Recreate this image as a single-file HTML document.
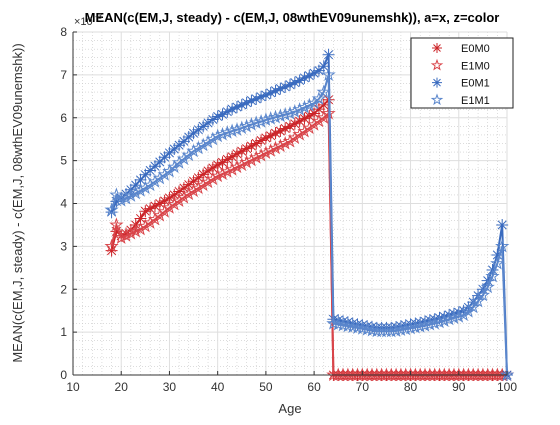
<!DOCTYPE html>
<html><head><meta charset="utf-8"><style>
body{margin:0;background:#fff;}
svg text{font-family:"Liberation Sans",sans-serif;}
</style></head><body>
<svg id="chart" width="560" height="420" xmlns="http://www.w3.org/2000/svg">
<rect x="0" y="0" width="560" height="420" fill="#fff"/>
<g id="grid"></g>
<g id="series"></g>
<g id="axes"></g>
<text x="292" y="22" text-anchor="middle" font-size="13" font-weight="bold" fill="#000">MEAN(c(EM,J, steady) - c(EM,J, 08wthEV09unemshk)), a=x, z=color</text>
<text x="74" y="25" font-size="11" fill="#333">×10</text>
<text x="95" y="19" font-size="8" fill="#333">-3</text>
<text x="290" y="413" text-anchor="middle" font-size="13" fill="#333">Age</text>
<text transform="translate(22,203) rotate(-90)" text-anchor="middle" font-size="13" fill="#333">MEAN(c(EM,J, steady) - c(EM,J, 08wthEV09unemshk))</text>
<g id="legend"></g>
</svg>
<script>
const xTicks=[10,20,30,40,50,60,70,80,90,100];
const yTicks=[0,1,2,3,4,5,6,7,8];
const seriesNames=["E0M0","E1M0","E0M1","E1M1"];
const workStartAge=18;
const retireStartAge=64;
const e0m0Work=[2.9,3.35,3.25,3.3,3.38,3.5,3.65,3.82,3.88,3.94,4.0,4.06,4.13,4.2,4.28,4.36,4.44,4.52,4.6,4.68,4.76,4.83,4.9,4.96,5.03,5.09,5.16,5.22,5.28,5.34,5.4,5.47,5.53,5.58,5.64,5.69,5.75,5.8,5.86,5.92,5.98,6.04,6.1,6.2,6.3,6.42];
const e1m0Work=[3.0,3.5,3.2,3.25,3.3,3.35,3.4,3.47,3.55,3.63,3.72,3.81,3.9,3.98,4.06,4.14,4.22,4.29,4.36,4.43,4.5,4.57,4.64,4.69,4.74,4.79,4.85,4.9,4.96,5.01,5.07,5.12,5.18,5.23,5.29,5.34,5.4,5.45,5.53,5.61,5.68,5.76,5.84,5.92,6.0,6.1];
const e0m1Work=[3.8,4.05,4.13,4.22,4.32,4.43,4.55,4.67,4.77,4.87,4.97,5.08,5.18,5.27,5.36,5.45,5.55,5.64,5.72,5.8,5.88,5.96,6.03,6.08,6.14,6.2,6.25,6.3,6.35,6.4,6.44,6.49,6.53,6.58,6.63,6.68,6.72,6.77,6.82,6.87,6.93,6.98,7.04,7.1,7.2,7.47];
const e1m1Work=[3.85,4.2,4.07,4.12,4.18,4.24,4.3,4.36,4.43,4.51,4.59,4.67,4.75,4.85,4.95,5.04,5.13,5.22,5.29,5.36,5.43,5.5,5.57,5.61,5.65,5.69,5.72,5.76,5.8,5.84,5.88,5.91,5.95,5.98,6.01,6.04,6.07,6.1,6.14,6.19,6.24,6.29,6.34,6.44,6.6,7.0];
const e0m0Retire=[0,0,0,0,0,0,0,0,0,0,0,0,0,0,0,0,0,0,0,0,0,0,0,0,0,0,0,0,0,0,0,0,0,0,0,0,0];
const e1m0Retire=[0,0,0,0,0,0,0,0,0,0,0,0,0,0,0,0,0,0,0,0,0,0,0,0,0,0,0,0,0,0,0,0,0,0,0,0,0];
const e0m1Retire=[1.3,1.28,1.25,1.23,1.2,1.18,1.16,1.14,1.12,1.1,1.1,1.1,1.1,1.12,1.14,1.16,1.18,1.2,1.22,1.25,1.28,1.3,1.33,1.36,1.4,1.43,1.46,1.5,1.58,1.7,1.85,2.0,2.2,2.45,2.8,3.5,0];
const e1m1Retire=[1.2,1.18,1.16,1.14,1.12,1.1,1.08,1.06,1.04,1.02,1.02,1.02,1.02,1.03,1.05,1.07,1.09,1.11,1.13,1.15,1.18,1.2,1.23,1.26,1.3,1.33,1.36,1.4,1.48,1.58,1.72,1.86,2.05,2.3,2.6,3.0,0];
const seriesValues=[e0m0Work.concat(e0m0Retire),e1m0Work.concat(e1m0Retire),e0m1Work.concat(e0m1Retire),e1m1Work.concat(e1m1Retire)];

const NS="http://www.w3.org/2000/svg";
const L=73,R=507,T=32,B=375;
const xS=v=>L+(v-10)/90*(R-L);
const yS=v=>B-v/8*(B-T);
function mk(tag,attrs,parent){const e=document.createElementNS(NS,tag);for(const k in attrs)e.setAttribute(k,attrs[k]);parent.appendChild(e);return e;}
const grid=document.getElementById('grid'),axes=document.getElementById('axes'),ser=document.getElementById('series'),leg=document.getElementById('legend');
for(let v=12;v<100;v+=2){if(v%10===0)continue;const l=mk('line',{x1:xS(v),x2:xS(v),y1:T,y2:B,stroke:'#c8c8c8','stroke-width':0.6,'stroke-dasharray':'1,2'},grid);}
for(let i=1;i<40;i++){if(i%5===0)continue;const v=i*0.2;const l=mk('line',{x1:L,x2:R,y1:yS(v),y2:yS(v),stroke:'#c8c8c8','stroke-width':0.6,'stroke-dasharray':'1,2'},grid);}
xTicks.forEach(v=>{const l=mk('line',{x1:xS(v),x2:xS(v),y1:T,y2:B,stroke:'#dedede','stroke-width':1},grid);
 const t=mk('line',{x1:xS(v),x2:xS(v),y1:B,y2:B-4,stroke:'#333'},axes);
 const tx=mk('text',{x:xS(v),y:B+16,'text-anchor':'middle','font-size':12,fill:'#333'},axes);tx.textContent=v;});
yTicks.forEach(v=>{const l=mk('line',{x1:L,x2:R,y1:yS(v),y2:yS(v),stroke:'#dedede','stroke-width':1},grid);
 const t=mk('line',{x1:L,x2:L+4,y1:yS(v),y2:yS(v),stroke:'#333'},axes);
 const tx=mk('text',{x:L-6,y:yS(v)+4,'text-anchor':'end','font-size':12,fill:'#333'},axes);tx.textContent=v;});
const ax1=mk('line',{x1:L,x2:R,y1:B,y2:B,stroke:'#333'},axes);
const ax2=mk('line',{x1:L,x2:L,y1:T,y2:B,stroke:'#333'},axes);

const colors=['#cc2529','#d9454a','#3a6bbf','#5a86cc'];
const starKind=[0,1,0,1];
function asterisk(x,y,r,c,p){const d=`M${x-r},${y}H${x+r}M${x},${y-r}V${y+r}M${x-r*0.7},${y-r*0.7}L${x+r*0.7},${y+r*0.7}M${x-r*0.7},${y+r*0.7}L${x+r*0.7},${y-r*0.7}`;return mk('path',{d,stroke:c,'stroke-width':1,fill:'none'},p);}
function penta(x,y,r,c,p){let pts=[];for(let i=0;i<10;i++){const a=-Math.PI/2+i*Math.PI/5;const rr=i%2?r*0.4:r;pts.push((x+rr*Math.cos(a)).toFixed(1)+','+(y+rr*Math.sin(a)).toFixed(1));}return mk('polygon',{points:pts.join(' '),stroke:c,'stroke-width':1,fill:'none'},p);}
seriesValues.forEach((vals,s)=>{
 const g=mk('g',{},ser);
 const pts=vals.map((v,i)=>xS(workStartAge+i)+','+yS(v)).join(' ');
 const pl=mk('polyline',{points:pts,fill:'none',stroke:colors[s],'stroke-width':2},g);
 vals.forEach((v,i)=>{const m=starKind[s]?penta(xS(workStartAge+i),yS(v),6,colors[s],g):asterisk(xS(workStartAge+i),yS(v),6,colors[s],g);});
});
const lb=mk('rect',{x:411,y:38,width:102,height:70,fill:'#fff',stroke:'#222','stroke-width':1},leg);
seriesNames.forEach((n,s)=>{const y=48+s*17.3;const g=mk('g',{},leg);
 const m=starKind[s]?penta(437,y,5,colors[s],g):asterisk(437,y,5,colors[s],g);
 const t=mk('text',{x:461,y:y+4,'font-size':11,fill:'#111'},g);t.textContent=n;});
</script>
</body></html>
